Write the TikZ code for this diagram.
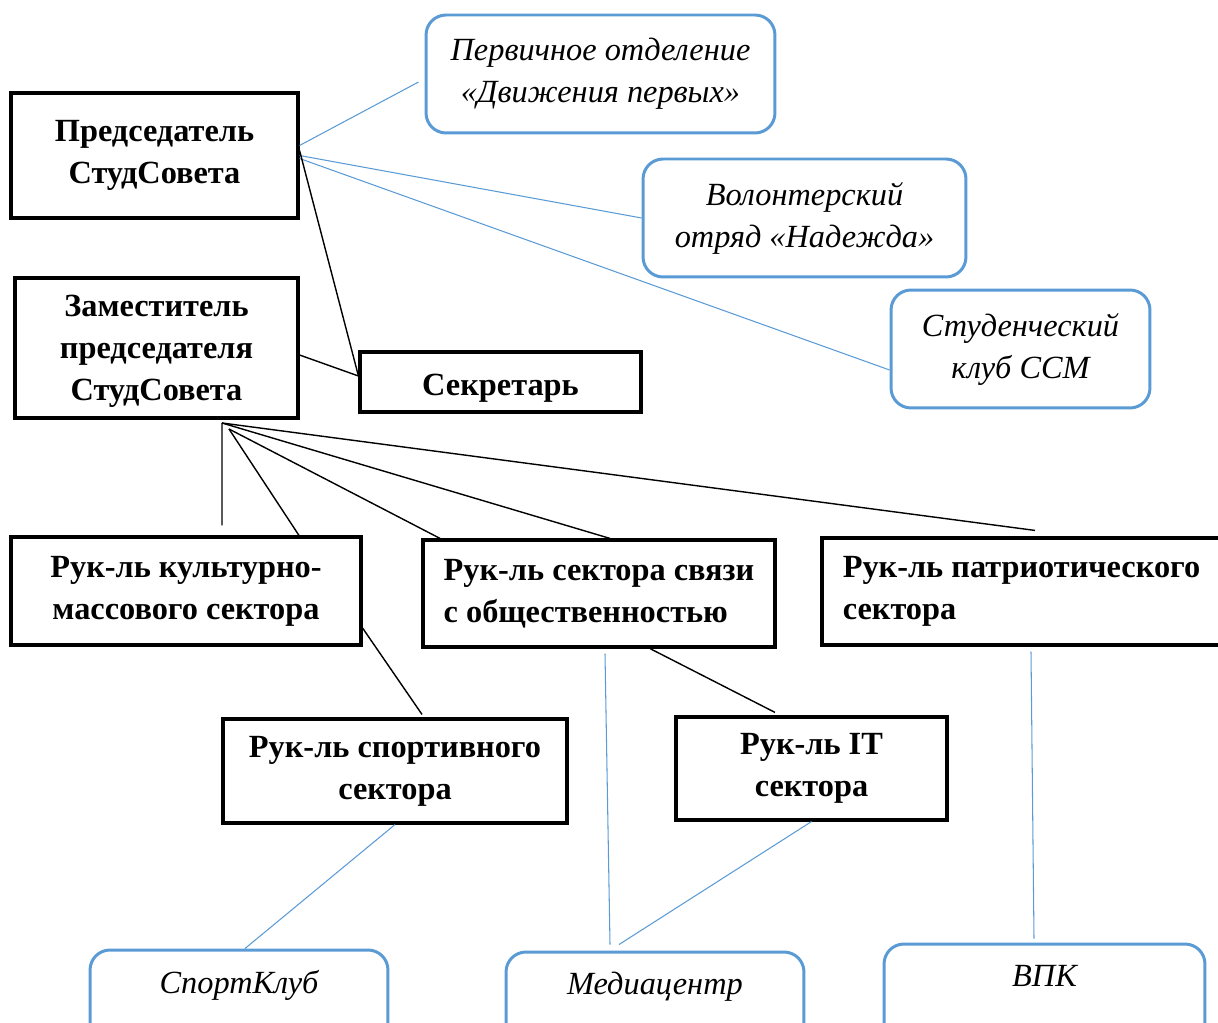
\documentclass[tikz,border=0pt]{standalone}
\usepackage{fontspec}
\setmainfont{Liberation Serif}
\usetikzlibrary{positioning}
\definecolor{frame}{rgb}{0.357,0.608,0.835}
\tikzset{
  head/.style = {draw,line width=1.8pt,font=\fontsize{18.4}{23.9}\selectfont\bfseries,align=center,inner sep=2pt},
  club/.style = {draw=frame,line width=1.7pt,rounded corners=0.4cm,font=\fontsize{18.4}{23.9}\selectfont\itshape,align=center,minimum height=2.36cm},
  lnk/.style = {line width=0.8pt},
  lnkb/.style = {frame,line width=0.6pt}
}

\begin{document}
\begin{tikzpicture}[x=0.02cm,y=-0.02cm]
\useasboundingbox (0,0) rectangle (1218,1023);

% council
\node[head,minimum width=5.74cm,minimum height=2.5cm] (pred) at (154.5,155.5) {Председатель\\СтудСовета};
\node[head,minimum width=5.66cm,minimum height=2.8cm,text depth=0pt] (zam) at (156.5,348) {Заместитель\\председателя\\СтудСовета};
\node[head,minimum width=5.62cm,minimum height=1.2cm,text depth=0.1cm] (sek) at (500.5,382) {\raisebox{-0.2cm}{Секретарь}};

% sectors
\node[head,minimum width=7cm,minimum height=2.16cm] (kult) at (186,591) {Рук-ль культурно-\\массового сектора};
\node[head,align=left,minimum width=7.04cm,minimum height=2.14cm] (svyaz) at (599,593.5) {Рук-ль сектора связи\\с общественностью};
\node[head,align=left,minimum width=7.98cm,minimum height=2.14cm] (patr) at (1021.5,591.5) {Рук-ль патриотического\\сектора};
\node[head,minimum width=6.88cm,minimum height=2.08cm] (sport) at (395,771) {Рук-ль спортивного\\сектора};
\node[head,minimum width=5.42cm,minimum height=2.06cm] (it) at (811.5,768.5) {Рук-ль IT\\сектора};

% unions
\node[club,minimum width=6.98cm] (perv) at (600.5,74) {Первичное отделение\\«Движения первых»};
\node[club,minimum width=6.46cm] (vol) at (804.5,218) {Волонтерский\\отряд «Надежда»};
\node[club,minimum width=5.18cm] (ssm) at (1020.5,349) {Студенческий\\клуб ССМ};
\node[club,minimum width=5.96cm] (spclub) at (239,1009) {СпортКлуб\\\strut};
\node[club,minimum width=5.96cm] (media) at (655,1011) {Медиацентр\\\strut};
\node[club,minimum width=6.42cm] (vpk) at (1044.5,1003) {ВПК\\\strut};

\coordinate (hub) at (222,423);
\coordinate (hubb) at (229,429);

\draw[lnkb] ([yshift=0.2cm]pred.east) -- ([xshift=-0.12cm,yshift=-0.16cm]perv.west);
\draw[lnkb] (pred.east) -- (vol.west);
\draw[lnkb] ([yshift=-0.06cm]pred.east) -- ([yshift=-0.42cm]ssm.west);
\draw[lnk] ([yshift=0.1cm]pred.east) -- ([yshift=0.12cm]sek.west);
\draw[lnk] ([yshift=-0.14cm]zam.east) -- ([yshift=0.12cm]sek.west);

\draw[lnk] (hub) -- ([xshift=0.72cm,yshift=0.2cm]kult.north);
\draw[lnk] (hubb) -- ([xshift=2.26cm]kult.north);
\draw[lnk] (hubb) -- ([xshift=-3.18cm]svyaz.north);
\draw[lnk] (hub) -- ([xshift=0.22cm]svyaz.north);
\draw[lnk] (hub) -- ([xshift=0.27cm,yshift=0.12cm]patr.north);

\draw[lnk] ([yshift=-0.74cm]kult.east) -- ([xshift=0.54cm,yshift=0.06cm]sport.north);
\draw[lnk] ([xshift=1.02cm]svyaz.south) -- ([xshift=-0.73cm,yshift=0.06cm]it.north);

\draw[lnkb] (sport.south) -- ([xshift=0.12cm]spclub.north);
\draw[lnkb] ([xshift=0.12cm,yshift=-0.1cm]svyaz.south) -- ([xshift=-0.9cm,yshift=0.12cm]media.north);
\draw[lnkb] (it.south) -- ([xshift=-0.72cm,yshift=0.12cm]media.north);
\draw[lnkb] ([xshift=0.19cm,yshift=-0.1cm]patr.south) -- ([xshift=-0.21cm,yshift=0.08cm]vpk.north);
\end{tikzpicture}
\end{document}
